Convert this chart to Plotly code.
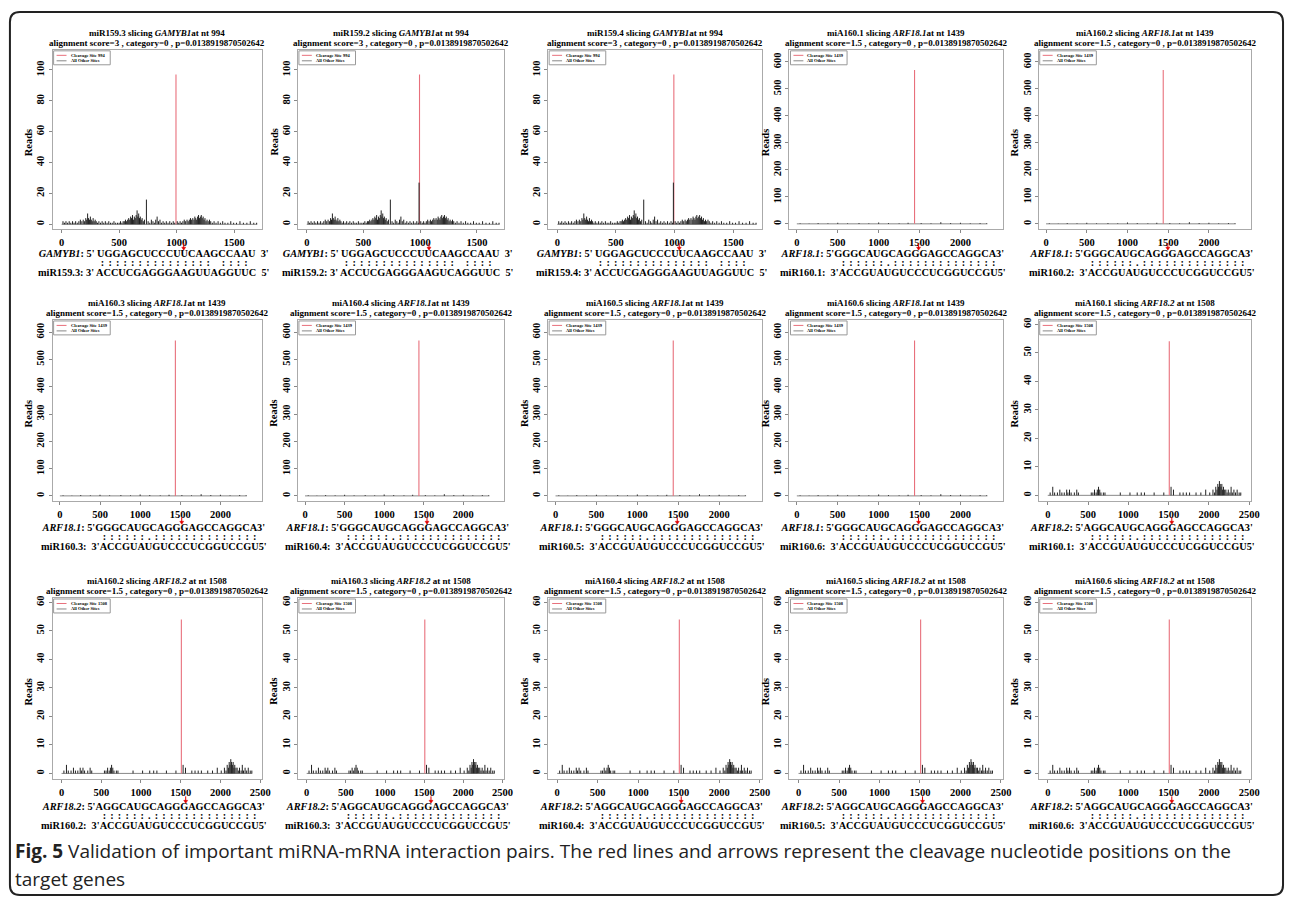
import plotly.graph_objects as go

# ---------------- data ----------------
panel_mirna = ["miR159.3", "miR159.2", "miR159.4", "miA160.1", "miA160.2",
               "miA160.3", "miA160.4", "miA160.5", "miA160.6", "miA160.1",
               "miA160.2", "miA160.3", "miA160.4", "miA160.5", "miA160.6"]
panel_mir_label = ["miR159.3", "miR159.2", "miR159.4", "miR160.1", "miR160.2",
                   "miR160.3", "miR160.4", "miR160.5", "miR160.6", "miR160.1",
                   "miR160.2", "miR160.3", "miR160.4", "miR160.5", "miR160.6"]
panel_target = ["GAMYB1"] * 3 + ["ARF18.1"] * 6 + ["ARF18.2"] * 6

target_site = {"GAMYB1": 994, "ARF18.1": 1439, "ARF18.2": 1508}
target_site_reads = {"GAMYB1": 97, "ARF18.1": 570, "ARF18.2": 54}
target_length = {"GAMYB1": 1700, "ARF18.1": 2330, "ARF18.2": 2400}
target_score = {"GAMYB1": "3", "ARF18.1": "1.5", "ARF18.2": "1.5"}
p_value = "0.0138919870502642"

target_seq = {"GAMYB1": "UGGAGCUCCCUUCAAGCCAAU",
              "ARF18.1": "GGGCAUGCAGGGAGCCAGGCA",
              "ARF18.2": "AGGCAUGCAGGGAGCCAGGCA"}
mirna_seq = {"miR159.3": "ACCUCGAGGGAAGUUAGGUUC",
             "miR159.2": "ACCUCGAGGGAAGUCAGGUUC",
             "miR159.4": "ACCUCGAGGGAAGUUAGGUUC",
             "miR160": "ACCGUAUGUCCCUCGGUCCGU"}
pairing = {"GAMYB1": ":::::::::::::::-::::",
           "ARF18.1": "::::::.::::::::::::::",
           "ARF18.2": "::::::.::::::::::::::"}

# degradome reads at all other sites (position, reads)
gamyb1_sites = [(12,2),(25,1),(38,2),(52,1),(66,2),(80,1),(95,2),(108,1),(122,2),(136,1),(150,2),(163,3),
                (176,2),(188,3),(200,2),(210,4),(218,3),(226,7),(234,4),(242,3),(250,5),(258,3),(266,2),
                (274,4),(283,2),(292,3),(301,2),(312,1),(324,2),(338,1),(352,2),(366,1),(380,2),(395,1),
                (410,2),(425,1),(440,1),(455,2),(470,1),(486,1),(500,1),(512,2),(524,1),(535,2),(545,2),
                (555,3),(565,2),(574,3),(583,4),(592,3),(600,5),(608,4),(616,6),(624,3),(632,5),(640,4),
                (648,6),(656,9),(663,5),(670,7),(677,4),(684,5),(692,3),(700,4),(710,2),(720,3),(737,16),
                (752,2),(766,1),(780,3),(794,2),(806,1),(818,3),(830,5),(842,2),(855,3),(868,1),(882,2),
                (896,1),(910,2),(925,1),(940,2),(955,1),(970,2),(983,1),(1005,2),(1018,1),(1030,2),(1042,1),
                (1054,2),(1066,3),(1078,2),(1090,3),(1100,2),(1110,3),(1120,4),(1130,3),(1140,4),(1150,3),
                (1158,5),(1166,4),(1174,3),(1182,5),(1190,6),(1198,4),(1206,5),(1214,6),(1222,4),(1230,5),
                (1238,3),(1246,4),(1255,2),(1264,3),(1274,2),(1285,3),(1296,2),(1310,1),(1325,2),(1342,1),
                (1360,2),(1380,1),(1400,2),(1420,1),(1445,1),(1470,2),(1495,1),(1520,1),(1550,2),(1580,1),
                (1610,1),(1640,2),(1670,1),(1695,1)]
arf181_sites = [(40,2),(150,1),(260,3),(380,2),(500,4),(620,2),(760,3),(880,2),(1000,5),(1120,3),
                (1250,2),(1360,4),(1520,3),(1640,2),(1760,6),(1880,3),(2000,4),(2120,2),(2240,3),(2320,2)]
arf182_sites = [(30,1),(62,3),(85,1),(120,1),(150,2),(175,1),(205,1),(235,2),(250,1),(270,2),(290,1),
                (330,1),(360,2),(380,1),(540,1),(560,1),(580,2),(600,1),(615,2),(630,3),(645,2),(660,1),
                (690,1),(710,1),(900,1),(1020,1),(1110,1),(1160,1),(1200,1),(1320,1),(1440,1),(1530,3),
                (1560,2),(1640,1),(1680,1),(1720,1),(1760,1),(1840,1),(1900,1),(1960,2),(2010,1),(2050,2),
                (2070,1),(2085,3),(2100,2),(2110,4),(2120,3),(2130,5),(2140,4),(2150,3),(2160,4),(2170,2),
                (2180,3),(2195,2),(2210,2),(2225,1),(2240,2),(2260,1),(2275,3),(2290,1),(2310,2),(2330,1),
                (2350,2),(2375,1),(2395,1)]
site_lists = {"GAMYB1": gamyb1_sites, "ARF18.1": arf181_sites, "ARF18.2": arf182_sites}
extra_sites = {1: [(990, 27)], 2: [(990, 27)]}

caption_bold = "Fig. 5"
caption_line1 = (" Validation of important miRNA-mRNA interaction pairs. The red lines and arrows "
                 "represent the cleavage nucleotide positions on the")
caption_line2 = "target genes"

# ---------------- layout constants ----------------
W, H = 1295, 900
col_left = [53, 300, 552, 795, 1046]
col_w = [211, 208, 215, 215, 214]
row_top = [47, 318, 597]
row_bot = [227, 500, 779]
gene_y = [252, 527, 807]
x_range = {"GAMYB1": [-78, 1743], "ARF18.1": [-90, 2520], "ARF18.2": [-112, 2525]}
y_range = {"GAMYB1": [-3.2, 113], "ARF18.1": [-20, 645], "ARF18.2": [-2.1, 61.5]}
x_ticks = {"GAMYB1": [0, 500, 1000, 1500], "ARF18.1": [0, 500, 1000, 1500, 2000],
           "ARF18.2": [0, 500, 1000, 1500, 2000, 2500]}
y_ticks = {"GAMYB1": [0, 20, 40, 60, 80, 100], "ARF18.1": [0, 100, 200, 300, 400, 500, 600],
           "ARF18.2": [0, 10, 20, 30, 40, 50, 60]}
arrow_off = {"GAMYB1": 132, "ARF18.1": 130, "ARF18.2": 134}
colon_pad = {"GAMYB1": 16, "ARF18.1": 20, "ARF18.2": 20}
SERIF = "Liberation Serif"
RED = "#e8707c"
SEQ_PX = 10.3      # font size of alignment text
BASE_PX = 7.3      # base font of the alignment block (sets its line spacing)

fig = go.Figure()
shapes, annos = [], []
layout_axes = {}

for i in range(15):
    r, c = divmod(i, 5)
    t = panel_target[i]
    L = col_left[c]
    R = L + col_w[c]
    T = row_top[r]
    B = row_bot[r]
    n = i + 1
    xa = "x" if n == 1 else f"x{n}"
    ya = "y" if n == 1 else f"y{n}"

    fig.add_trace(go.Scatter(x=[0, target_length[t]], y=[0, 0], mode="lines",
                             line=dict(color="#888", width=1), xaxis=xa, yaxis=ya,
                             showlegend=False, hoverinfo="skip"))
    fig.add_trace(go.Scatter(x=[target_site[t], target_site[t]], y=[0, target_site_reads[t]],
                             mode="lines", line=dict(color=RED, width=1.1), xaxis=xa, yaxis=ya,
                             showlegend=False, hoverinfo="skip"))
    xs, ys = [], []
    for p, v in site_lists[t] + extra_sites.get(i, []):
        xs += [p, p, None]
        ys += [0, v, None]
    fig.add_trace(go.Scatter(x=xs, y=ys, mode="lines", line=dict(color="#222", width=1),
                             xaxis=xa, yaxis=ya, showlegend=False, hoverinfo="skip"))

    tf = dict(family=SERIF, size=10.5, color="black", weight="bold")
    layout_axes["xaxis" if n == 1 else f"xaxis{n}"] = dict(
        domain=[L / W, R / W], anchor=ya, range=x_range[t], tickvals=x_ticks[t],
        ticks="outside", ticklen=3, tickcolor="#888", showline=True, linecolor="#aaa",
        linewidth=1, mirror=True, showgrid=False, zeroline=False, tickfont=tf)
    layout_axes["yaxis" if n == 1 else f"yaxis{n}"] = dict(
        domain=[1 - B / H, 1 - T / H], anchor=xa, range=y_range[t], tickvals=y_ticks[t],
        ticks="outside", ticklen=3, tickcolor="#888", showline=True, linecolor="#aaa",
        linewidth=1, mirror=True, showgrid=False, zeroline=False, tickangle=-90, tickfont=tf)

    cx = (L + R) / 2
    sep = "" if t != "ARF18.2" else " "
    tfont = dict(family=SERIF, size=9, color="black", weight="bold")
    annos.append(dict(x=cx, y=T - 17, text=f"{panel_mirna[i]} slicing <i>{t}</i>{sep}at nt {target_site[t]}",
                      font=tfont))
    annos.append(dict(x=cx, y=T - 7,
                      text=f"alignment score={target_score[t]} , category=0 , p={p_value}",
                      font=tfont))
    # Reads label
    annos.append(dict(x=L - 24, y=(T + B) / 2 + 3, text="Reads", textangle=-90,
                      font=dict(family=SERIF, size=10.5, color="black", weight="bold")))
    # legend box
    lx, ly = L + 1, T + 1
    shapes.append(dict(type="rect", x0=lx, y0=ly, x1=lx + 57, y1=ly + 14,
                       line=dict(color="#999", width=1), fillcolor="white"))
    shapes.append(dict(type="line", x0=lx + 3, y0=ly + 4.5, x1=lx + 13, y1=ly + 4.5,
                       line=dict(color=RED, width=1)))
    shapes.append(dict(type="line", x0=lx + 3, y0=ly + 10, x1=lx + 13, y1=ly + 10,
                       line=dict(color="#888", width=1)))
    annos.append(dict(x=lx + 15, y=ly + 4.5, xanchor="left", text=f"Cleavage Site {target_site[t]}",
                      font=dict(family=SERIF, size=4.5, color="black", weight="bold")))
    annos.append(dict(x=lx + 15, y=ly + 10, xanchor="left", text="All Other Sites",
                      font=dict(family=SERIF, size=4.5, color="black", weight="bold")))

    # alignment text block (three tightly spaced lines in one text)
    gy = gene_y[r]
    mir = panel_mir_label[i]
    mseq = mirna_seq.get(mir, mirna_seq["miR160"])
    if t == "GAMYB1":
        gl = f"<i>{t}</i>: 5' {target_seq[t]}\u00a0 3'"
        ml = f"{mir}: 3' {mseq}\u00a0 5'"
    else:
        gl = f"<i>{t}</i>: 5'{target_seq[t]}3'"
        ml = f"{mir}:\u00a0 3'{mseq}5'"
    colons = "\u00a0" * colon_pad[t] + "\u2009\u2009".join(
        "\u2004" if ch == "-" else ch for ch in pairing[t])
    sp = f'<span style="font-size:{SEQ_PX}px">'
    block = f"{sp}{gl}</span><br>{sp}{colons}</span><br>{sp}{ml}</span>"
    annos.append(dict(x=cx - 3, y=gy + 8.5, text=block, align="center",
                      font=dict(family=SERIF, size=BASE_PX, color="black", weight="bold")))
    # red arrow
    axp = L + arrow_off[t]
    shapes.append(dict(type="line", x0=axp, y0=gy - 11, x1=axp, y1=gy - 6,
                       line=dict(color="#e00000", width=1)))
    shapes.append(dict(type="path", path=f"M {axp-2},{gy-7} L {axp+2},{gy-7} L {axp},{gy-4} Z",
                       fillcolor="#e00000", line=dict(color="#e00000", width=0.5)))

# overlay pixel-coordinate axis
fig.add_trace(go.Scatter(x=[0], y=[0], mode="markers", marker=dict(opacity=0), xaxis="x16",
                         yaxis="y16", showlegend=False, hoverinfo="skip"))
layout_axes["xaxis16"] = dict(domain=[0, 1], range=[0, W], visible=False, anchor="y16")
layout_axes["yaxis16"] = dict(domain=[0, 1], range=[H, 0], visible=False, anchor="x16")

for s in shapes:
    s.update(xref="x16", yref="y16", layer="above")
for a in annos:
    a.setdefault("showarrow", False)
    a.update(xref="x16", yref="y16")

# outer rounded frame
x0, y0, x1, y1, rr = 10, 9, 1292, 895, 10
frame = (f"M {x0+rr},{y0} L {x1-rr},{y0} Q {x1},{y0} {x1},{y0+rr} L {x1},{y1-rr} "
         f"Q {x1},{y1} {x1-rr},{y1} L {x0+rr},{y1} Q {x0},{y1} {x0},{y1-rr} "
         f"L {x0},{y0+rr} Q {x0},{y0} {x0+rr},{y0} Z")
shapes.append(dict(type="path", path=frame, xref="x16", yref="y16",
                   line=dict(color="#222", width=2), layer="above"))

cap_font = dict(family="Open Sans", size=19, color="#222")
annos.append(dict(x=13, y=851, xanchor="left", xref="x16", yref="y16", showarrow=False,
                  text=f"<b>{caption_bold}</b>{caption_line1}", font=cap_font))
annos.append(dict(x=13, y=879, xanchor="left", xref="x16", yref="y16", showarrow=False,
                  text=caption_line2, font=cap_font))

fig.update_layout(width=W, height=H, margin=dict(l=0, r=0, t=0, b=0),
                  paper_bgcolor="white", plot_bgcolor="rgba(0,0,0,0)",
                  shapes=shapes, annotations=annos, showlegend=False, **layout_axes)
fig.write_html("out.html")
